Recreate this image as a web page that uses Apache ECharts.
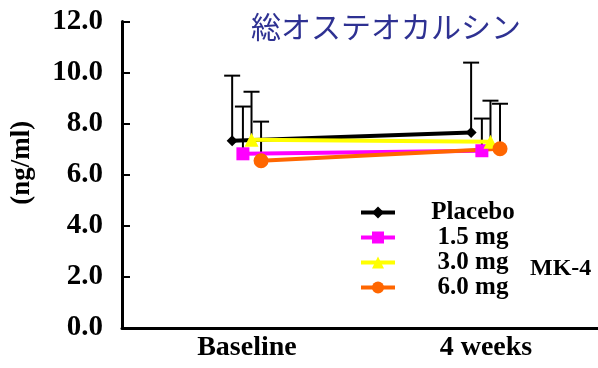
<!DOCTYPE html>
<html>
<head>
<meta charset="utf-8">
<script src="https://cdn.jsdelivr.net/npm/echarts@6/dist/echarts.min.js"></script>
<style>
html,body{margin:0;padding:0;background:#fff;}
#chart{width:598px;height:368px;}
</style>
</head>
<body>
<div id="chart"></div>
<script>
// ---- data ----
const categories = ['Baseline', '4 weeks'];
const seriesNames = ['Placebo', '1.5 mg', '3.0 mg', '6.0 mg'];
const placeboMean = [7.33, 7.65];
const placeboTop  = [9.88, 10.39];
const mg15Mean = [6.82, 6.94];
const mg15Top  = [8.67, 8.20];
const mg30Mean = [7.37, 7.29];
const mg30Top  = [9.25, 8.90];
const mg60Mean = [6.55, 7.02];
const mg60Top  = [8.08, 8.78];
const yTicks = [0, 2, 4, 6, 8, 10, 12];
const titleText = '総オステオカルシン';
const yName = '(ng/ml)';
const groupLabel = 'MK-4';

// ---- styles ----
const colors = ['#000000', '#FF00FF', '#FFFF00', '#FF6600'];
const symbols = ['diamond', 'rect', 'triangle', 'circle'];
const symbolSizes = [11, 13, 14, 15];
const dodge = [-0.062, -0.017, 0.019, 0.059];
const means = [placeboMean, mg15Mean, mg30Mean, mg60Mean];
const tops = [placeboTop, mg15Top, mg30Top, mg60Top];
const serif = '"Liberation Serif", "Times New Roman", serif';

const chart = echarts.init(document.getElementById('chart'));

const series = [];
seriesNames.forEach((name, s) => {
  series.push({
    type: 'custom',
    silent: true,
    z: 1,
    data: categories.map((c, i) => [i + dodge[s], means[s][i], tops[s][i]]),
    renderItem: function (params, api) {
      const p0 = api.coord([api.value(0), api.value(1)]);
      const p1 = api.coord([api.value(0), api.value(2)]);
      const hw = 8;
      return {
        type: 'group',
        children: [
          { type: 'line', shape: { x1: p0[0], y1: p0[1], x2: p1[0], y2: p1[1] }, style: { stroke: '#000', lineWidth: 2 } },
          { type: 'line', shape: { x1: p1[0] - hw, y1: p1[1], x2: p1[0] + hw, y2: p1[1] }, style: { stroke: '#000', lineWidth: 2 } }
        ]
      };
    }
  });
});
seriesNames.forEach((name, s) => {
  series.push({
    name: name,
    type: 'line',
    z: 3,
    data: categories.map((c, i) => [i + dodge[s], means[s][i]]),
    symbol: symbols[s],
    symbolSize: symbolSizes[s],
    showAllSymbol: true,
    lineStyle: { color: colors[s], width: 4 },
    itemStyle: { color: colors[s] },
    emphasis: { disabled: true },
    animation: false
  });
});

chart.setOption({
  animation: false,
  color: colors,
  title: {
    text: titleText,
    left: 381, top: 7, textAlign: 'center',
    textStyle: { fontFamily: '"Noto Sans CJK JP", sans-serif', fontSize: 30, fontWeight: 'normal', color: '#2E3192' }
  },
  grid: { left: 122, right: 0, top: 21.5, bottom: 40 },
  xAxis: {
    type: 'value',
    min: -0.523, max: 1.469,
    splitLine: { show: false },
    axisLine: { show: true, onZero: false, lineStyle: { color: '#000', width: 3 } },
    axisTick: { show: false },
    axisLabel: {
      customValues: [0, 1],
      formatter: v => categories[Math.round(v)],
      fontFamily: serif, fontWeight: 'bold', fontSize: 28, color: '#000', margin: 6
    }
  },
  yAxis: {
    type: 'value',
    min: 0, max: 12, interval: 2,
    name: yName,
    nameLocation: 'middle',
    nameGap: 86,
    nameRotate: 90,
    nameTextStyle: { fontFamily: serif, fontWeight: 'bold', fontSize: 27, color: '#000', padding: [0, 0, 0, 24] },
    splitLine: { show: false },
    axisLine: { show: true, onZero: false, lineStyle: { color: '#000', width: 3 } },
    axisTick: { show: true, inside: true, length: 8, lineStyle: { color: '#000', width: 2 } },
    axisLabel: {
      formatter: v => v.toFixed(1),
      fontFamily: serif, fontWeight: 'bold', fontSize: 29, color: '#000', margin: 19
    }
  },
  legend: {
    orient: 'vertical',
    left: 354, top: 195,
    data: seriesNames,
    itemWidth: 34, itemHeight: 15, itemGap: 0,
    lineStyle: { width: 4 },
    selectedMode: false,
    formatter: n => '{a|' + n + '}',
    textStyle: {
      rich: { a: { fontFamily: serif, fontWeight: 'bold', fontSize: 25, color: '#000', width: 146, align: 'center', lineHeight: 25, height: 25 } }
    }
  },
  graphic: [{
    type: 'text', left: 530, top: 257,
    style: { text: groupLabel, fontFamily: serif, fontWeight: 'bold', fontSize: 24, fill: '#000' }
  }],
  series: series
});
</script>
</body>
</html>
